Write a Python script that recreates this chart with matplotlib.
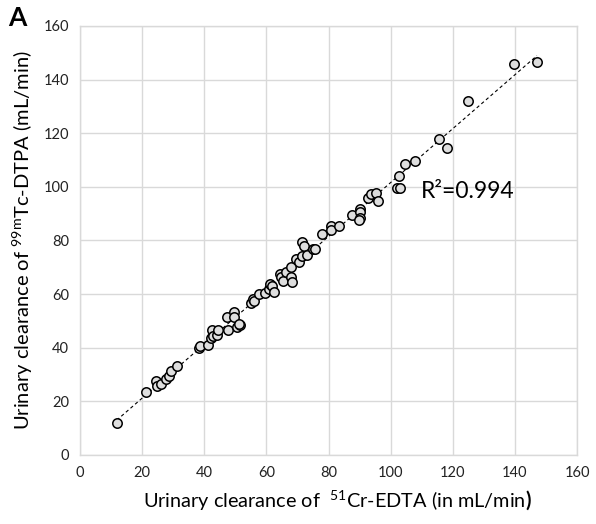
import numpy as np
import matplotlib
matplotlib.use("Agg")
import matplotlib.pyplot as plt

# Urinary clearance (mL/min): 51Cr-EDTA (x) vs 99mTc-DTPA (y)
cr_edta = [11.8, 21.3, 24.5, 24.9, 26.1, 27.7, 28.8, 29.2, 31.3, 38.3,
           38.6, 41.3, 42.1, 42.4, 42.9, 44.0, 44.5, 47.2, 47.8, 49.6,
           49.6, 50.4, 51.5, 51.2, 54.9, 55.7, 56.1, 57.7, 59.7, 60.9,
           61.2, 61.7, 62.5, 64.4, 64.6, 65.5, 66.3, 67.8, 67.8, 68.1,
           69.5, 70.4, 71.4, 71.5, 72.1, 73.0, 74.9, 75.7, 77.9, 80.8,
           80.8, 83.5, 87.7, 90.3, 90.0, 90.2, 89.7, 92.6, 93.6, 95.3,
           96.0, 101.9, 103.0, 102.7, 104.6, 107.9, 115.6, 118.3, 124.9,
           139.7, 147.1]
tc_dtpa = [12.0, 23.5, 27.5, 25.7, 26.4, 28.2, 29.4, 31.2, 33.3, 39.9,
           40.6, 41.0, 43.5, 46.6, 44.4, 44.6, 46.8, 51.5, 46.8, 53.5,
           51.4, 47.8, 48.3, 48.8, 56.6, 58.3, 57.3, 60.1, 60.5, 61.8,
           63.8, 63.2, 60.7, 67.4, 66.4, 64.9, 68.4, 70.0, 66.5, 64.6,
           73.2, 72.0, 74.4, 79.6, 77.8, 74.6, 76.8, 76.8, 82.3, 85.5,
           83.8, 85.3, 89.4, 91.7, 90.8, 88.3, 87.5, 95.8, 97.3, 97.6,
           94.8, 99.7, 99.5, 104.1, 108.5, 109.7, 118.0, 114.4, 132.0,
           145.8, 146.6]
r2_label = "R²=0.994"

plt.rcParams['font.family'] = ['Lato', 'DejaVu Sans']
plt.rcParams['mathtext.fontset'] = 'custom'
plt.rcParams['mathtext.rm'] = 'Lato'
plt.rcParams['mathtext.bf'] = 'Lato:bold'

x = np.array(cr_edta)
y = np.array(tc_dtpa)

fig = plt.figure(figsize=(5.96, 5.24), dpi=100)
ax = fig.add_axes([80 / 596, 69 / 524, 497 / 596, 429 / 524])

grid_col = '#d9d9d9'
ax.set_xlim(0, 160)
ax.set_ylim(0, 160)
ax.set_xticks(np.arange(0, 161, 20))
ax.set_yticks(np.arange(0, 161, 20))
ax.grid(True, color=grid_col, lw=1)
ax.set_axisbelow(True)
for s in ax.spines.values():
    s.set_color(grid_col)
    s.set_linewidth(1)
ax.tick_params(length=0, labelsize=10.5, colors='#222222', pad=8)

# linear trendline across data range
k, b = np.polyfit(x, y, 1)
xx = np.array([x.min(), x.max()])
ax.plot(xx, k * xx + b, color='black', lw=0.8, ls=(0, (3, 2.5)), zorder=2)

ax.scatter(x, y, s=46, facecolor='#dedede', edgecolor='black', linewidth=1.1, zorder=3)

ax.text(109.8, 95.9, r2_label, fontsize=16.5, va='baseline', ha='left')

ax.set_xlabel(r"Urinary clearance of  $^{\rm 51}$Cr-EDTA (in mL/min$\bf{)}$", fontsize=14.3)
ax.xaxis.set_label_coords((337 - 80) / 497, -0.078)
ax.set_ylabel(r"Urinary clearance of $^{\rm 99m}$Tc-DTPA (mL/min)", fontsize=14.5, labelpad=6)

fig.text(8 / 596, 1 - 18 / 524, 'A', fontsize=19, fontweight='bold', va='center', ha='left')

fig.savefig('out.png', dpi=100)
